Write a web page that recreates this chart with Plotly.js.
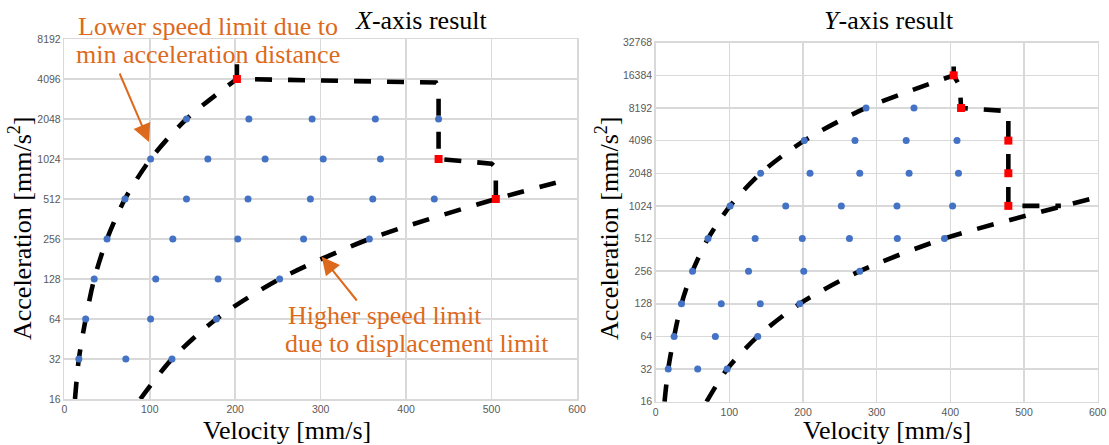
<!DOCTYPE html>
<html><head><meta charset="utf-8">
<script src="https://cdn.plot.ly/plotly-3.0.1.min.js"></script>
<style>html,body{margin:0;padding:0;background:#fff}#chart{width:1109px;height:445px}</style>
</head><body><div id="chart"></div>
<script>
// ---------- X-axis result (left) ----------
const xDotV = [12.5, 89, 17, 72, 126, 25, 101, 178, 35, 107, 180, 252, 50, 127, 203, 280, 357,
  71, 143, 215, 288, 361, 433, 101, 168, 235, 303, 370, 143, 216, 290, 364, 438];
const xDotA = [16, 16, 32, 32, 32, 64, 64, 64, 128, 128, 128, 128, 256, 256, 256, 256, 256,
  512, 512, 512, 512, 512, 512, 1024, 1024, 1024, 1024, 1024, 2048, 2048, 2048, 2048, 2048];
const xRedV = [202, 438, 505];
const xRedA = [4096, 1024, 512];
const xLowV = [12.5, 17, 25, 35, 50, 71, 101, 143, 202];
const xLowA = [16, 32, 64, 128, 256, 512, 1024, 2048, 4096];
const xEdgeV = [202, 202, 435, 438, 438, 500, 505, 505];
const xEdgeA = [5300, 4096, 3850, 3600, 1024, 945, 880, 512];
const xHighV = [89, 126, 178, 252, 357, 505, 580];
const xHighA = [16, 32, 64, 128, 256, 512, 690];
const xTicksA = [16, 32, 64, 128, 256, 512, 1024, 2048, 4096, 8192];

// ---------- Y-axis result (right) ----------
const yDotV = [12, 69, 17, 57, 97, 25, 81, 138.5, 35, 89, 142, 195.5, 50, 126, 201, 277,
  71, 135, 199, 263, 328, 392, 101, 176.5, 252, 327.5, 403, 142.5, 209.5, 277, 344, 411,
  201.7, 270.5, 340, 409, 285.5, 350.6];
const yDotA = [16, 16, 32, 32, 32, 64, 64, 64, 128, 128, 128, 128, 256, 256, 256, 256,
  512, 512, 512, 512, 512, 512, 1024, 1024, 1024, 1024, 1024, 2048, 2048, 2048, 2048, 2048,
  4096, 4096, 4096, 4096, 8192, 8192];
const yRedV = [404.5, 414.5, 478.7, 478.7, 478.7];
const yRedA = [16384, 8192, 4096, 2048, 1024];
const yLowV = [12, 17, 25, 35, 50, 71, 101, 142.5, 201.7, 285.5, 404.5];
const yLowA = [16, 32, 64, 128, 256, 512, 1024, 2048, 4096, 8192, 16384];
const yEdgeV = [404.5, 404.5, 413, 414.5, 474, 478.7, 478.7, 550];
const yEdgeA = [19800, 16384, 13000, 8192, 7700, 7300, 1024, 1024];
const yHighV = [69, 97, 138.5, 195.5, 277, 392, 554, 600];
const yHighA = [16, 32, 64, 128, 256, 512, 1024, 1230];
const yTicksA = [16, 32, 64, 128, 256, 512, 1024, 2048, 4096, 8192, 16384, 32768];

const velTicks = [0, 100, 200, 300, 400, 500, 600];

const W = 1109, H = 445;
const px = v => v / W, py = v => 1 - v / H;

const dashLine = {color: '#000', width: 4.6, dash: '17px,16px'};
function line(xs, ys, ax, smooth) {
  return {x: xs, y: ys, xaxis: ax[0], yaxis: ax[1], mode: 'lines', type: 'scatter',
    line: Object.assign({}, dashLine, smooth ? {shape: 'spline', smoothing: 0.8} : {}),
    hoverinfo: 'skip', cliponaxis: true};
}
function dots(xs, ys, ax) {
  return {x: xs, y: ys, xaxis: ax[0], yaxis: ax[1], mode: 'markers', type: 'scatter',
    marker: {color: '#4472C4', size: 7}, hoverinfo: 'skip', cliponaxis: false};
}
function reds(xs, ys, ax) {
  return {x: xs, y: ys, xaxis: ax[0], yaxis: ax[1], mode: 'markers', type: 'scatter',
    marker: {color: '#FF0000', size: 8, symbol: 'square'}, hoverinfo: 'skip', cliponaxis: false};
}
const A1 = ['x', 'y'], A2 = ['x2', 'y2'];
const data = [
  line(xLowV, xLowA, A1, true), line(xEdgeV, xEdgeA, A1, false), line(xHighV, xHighA, A1, true),
  dots(xDotV, xDotA, A1), reds(xRedV, xRedA, A1),
  line(yLowV, yLowA, A2, true), line(yEdgeV, yEdgeA, A2, false), line(yHighV, yHighA, A2, true),
  dots(yDotV, yDotA, A2), reds(yRedV, yRedA, A2)
];

const tickFont = {family: '"Liberation Sans", Arial, sans-serif', size: 10.5, color: '#595959'};
const grid = {showgrid: true, gridcolor: '#d9d9d9', gridwidth: 1.5, zeroline: false,
  showline: true, linecolor: '#d9d9d9', linewidth: 1.5, mirror: true, ticks: '',
  tickfont: tickFont, fixedrange: true};

function xax(dom, anchor) {
  return Object.assign({}, grid, {domain: dom, anchor: anchor, range: [0, 600],
    tickvals: velTicks, ticktext: velTicks.map(String)});
}
function yax(dom, anchor, ticks) {
  return Object.assign({}, grid, {domain: dom, anchor: anchor, type: 'log',
    range: [Math.log10(16), Math.log10(ticks[ticks.length - 1])],
    tickvals: ticks, ticktext: ticks.map(String)});
}

const serifFam = '"Liberation Serif", "DejaVu Serif", serif';
const orange = '#DD6A1C';
function txt(text, x, y, size, color, xanchor, angle) {
  return {text: text, xref: 'paper', yref: 'paper', x: px(x), y: py(y), showarrow: false,
    xanchor: xanchor || 'center', yanchor: 'middle', textangle: angle || 0,
    font: {family: serifFam, size: size, color: color}};
}
function arrow(hx, hy, tx, ty) {
  return {text: '', xref: 'paper', yref: 'paper', x: px(hx), y: py(hy), ax: tx - hx, ay: ty - hy,
    showarrow: true, arrowhead: 2, arrowsize: 1.8, arrowwidth: 2, arrowcolor: orange, standoff: 0};
}

const layout = {
  width: W, height: H, margin: {l: 0, r: 0, t: 0, b: 0},
  paper_bgcolor: '#fff', plot_bgcolor: '#fff', showlegend: false, hovermode: false,
  font: {family: serifFam},
  xaxis: xax([px(64.3), px(577)], 'y'),
  yaxis: yax([py(399), py(39)], 'x', xTicksA),
  xaxis2: xax([px(655.7), px(1097.7)], 'y2'),
  yaxis2: yax([py(401.7), py(42.7)], 'x2', yTicksA),
  annotations: [
    txt('<i>X</i>-axis result', 420.5, 20, 26, '#000'),
    txt('<i>Y</i>-axis result', 889, 20, 26, '#000'),
    txt('Velocity [mm/s]', 287, 430, 26, '#000'),
    txt('Velocity [mm/s]', 887, 430, 26, '#000'),
    txt('Acceleration [mm/s<sup>2</sup>]', 21, 228, 26, '#000', 'center', -90),
    txt('Acceleration [mm/s<sup>2</sup>]', 608, 228, 26, '#000', 'center', -90),
    txt('Lower speed limit due to', 208, 27, 26, orange),
    txt('min acceleration distance', 208, 55, 26, orange),
    txt('Higher speed limit', 286, 315, 26, orange, 'left'),
    txt('due to displacement limit', 283, 343, 26, orange, 'left'),
    arrow(149, 142, 119, 72),
    arrow(321.7, 256.7, 358, 302)
  ]
};

Plotly.newPlot('chart', data, layout, {displayModeBar: false, staticPlot: true});
</script>
</body></html>
